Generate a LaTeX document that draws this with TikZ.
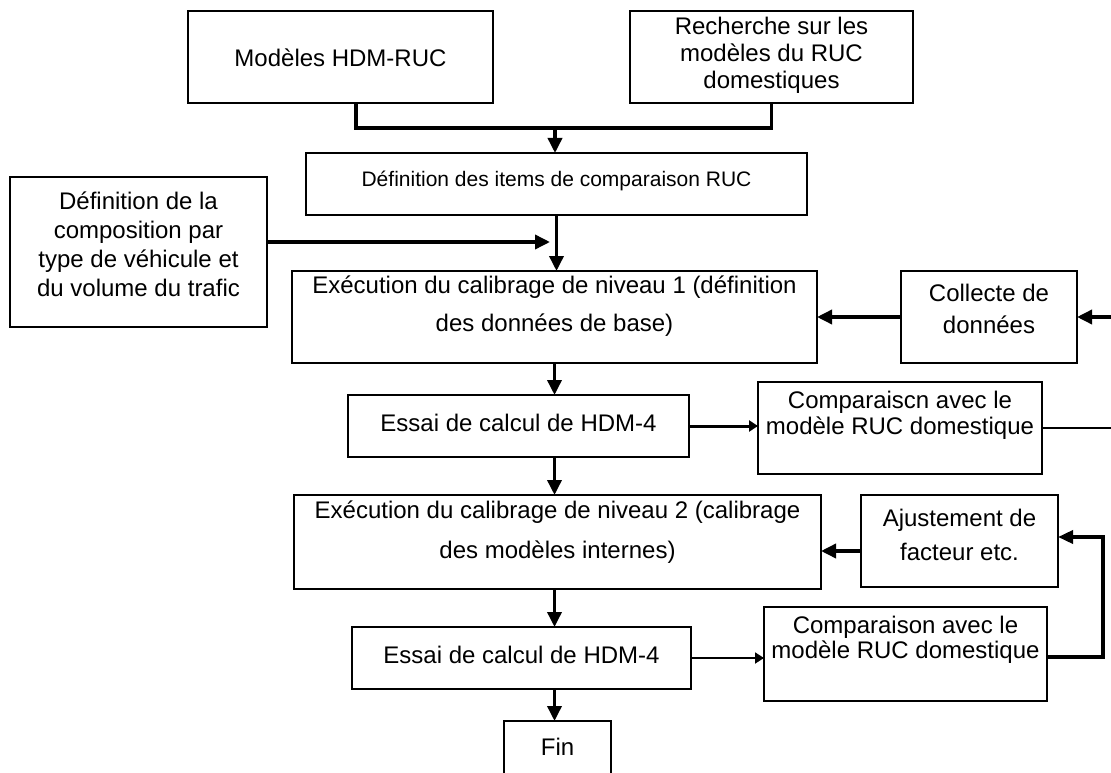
\documentclass[tikz,border=0pt]{standalone}
\usepackage{fontspec}
\setmainfont{Liberation Sans}
\usetikzlibrary{arrows.meta}
\begin{document}
\begin{tikzpicture}[x=1pt,y=-1pt,
  box/.style={draw, line width=1.3pt, rectangle, inner sep=0pt, outer sep=0pt},
  txt/.style={align=center, inner sep=0pt, font=\fontsize{24}{28}\selectfont},
  thk/.style={line width=3.5pt, -{Triangle[length=15pt,width=14pt]}},
  thkl/.style={line width=3.5pt},
  thksm/.style={line width=3pt, -{Triangle[length=9pt,width=11pt]}},
  thn/.style={line width=1.8pt, -{Triangle[length=9pt,width=11pt]}},
  thnl/.style={line width=1.8pt}]
\useasboundingbox[fill=white] (0,0) rectangle (1111,773);

% boxes
\node[box, minimum width=305pt, minimum height=92pt] (mod) at (340.5,57) {};
\node[box, minimum width=283pt, minimum height=92pt] (rech) at (771.5,57) {};
\node[box, minimum width=501pt, minimum height=62pt] (def) at (556.5,184) {};
\node[box, minimum width=257pt, minimum height=150pt] (left) at (138.5,252) {};
\node[box, minimum width=525pt, minimum height=92pt] (exec1) at (554.5,317) {};
\node[box, minimum width=176pt, minimum height=92pt] (coll) at (989,317) {};
\node[box, minimum width=341pt, minimum height=62pt] (essai1) at (518.5,426) {};
\node[box, minimum width=284pt, minimum height=92pt] (comp1) at (900,428) {};
\node[box, minimum width=527pt, minimum height=94pt] (exec2) at (557.5,542) {};
\node[box, minimum width=197pt, minimum height=92pt] (ajust) at (959.5,541) {};
\node[box, minimum width=339pt, minimum height=62pt] (essai2) at (521.5,658) {};
\node[box, minimum width=283pt, minimum height=94pt] (comp2) at (905.5,654) {};
\node[box, minimum width=107pt, minimum height=79pt] (fin) at (557.5,760.5) {};

% texts
\node[txt] (mod-t) at (340.5,58) {Modèles HDM-RUC};
\node[txt, font=\fontsize{24}{27}\selectfont] (rech-t) at (771.5,55) {Recherche sur les\\modèles du RUC\\domestiques};
\node[txt, font=\fontsize{21}{24}\selectfont] (def-t) at (556.5,181) {Définition des items de comparaison RUC};
\node[txt, font=\fontsize{24}{29}\selectfont] (left-t) at (138.5,244) {Définition de la\\composition par\\type de véhicule et\\du volume du trafic};
\node[txt, font=\fontsize{24}{38}\selectfont] (exec1-t) at (554.5,306) {Exécution du calibrage de niveau 1 (définition\\des données de base)};
\node[txt, font=\fontsize{24}{32}\selectfont] (coll-t) at (989,309) {Collecte de\\données};
\node[txt] (essai1-t) at (518.5,423) {Essai de calcul de HDM-4};
\node[txt, font=\fontsize{24}{26}\selectfont] (comp1-t) at (900,415) {Comparaiscn avec le\\modèle RUC domestique};
\node[txt, font=\fontsize{24}{40}\selectfont] (exec2-t) at (557.5,532) {Exécution du calibrage de niveau 2 (calibrage\\des modèles internes)};
\node[txt, font=\fontsize{24}{34}\selectfont] (ajust-t) at (959.5,535) {Ajustement de\\facteur etc.};
\node[txt] (essai2-t) at (521.5,655) {Essai de calcul de HDM-4};
\node[txt, font=\fontsize{24}{25}\selectfont] (comp2-t) at (905.5,640) {Comparaison avec le\\modèle RUC domestique};
\node[txt] (fin-t) at (557.5,747) {Fin};

% connectors
\coordinate (j) at (555,128);
\draw[thkl] ([xshift=15.5pt]mod.south) |- (j);
\draw[thkl] (rech.south) |- (j);
\draw[thk] (j) -- (j |- def.north);
\draw[thk] (def.south) -- (def.south |- exec1.north);
\coordinate (lt) at (550,242);
\draw[thk] (left.east |- lt) -- (lt);
\draw[thk] (coll.west) -- (coll.west -| exec1.east);
\coordinate (re1) at (1125,317);
\draw[thk] (re1) -- (coll.east);
\draw[thk] (exec1.south) -- (exec1.south |- essai1.north);
\draw[thksm] (essai1.east) -- (essai1.east -| comp1.west);
\coordinate (re2) at (1125,428);
\draw[thnl] (comp1.east) -- (re2);
\draw[thk] (essai1.south -| exec1.south) -- (exec2.north -| exec1.south);
\coordinate (aw) at ([yshift=-10pt]ajust.west);
\draw[thk] (aw) -- (aw -| exec2.east);
\draw[thk] (exec2.south -| exec1.south) -- (essai2.north -| exec1.south);
\coordinate (cr) at (1103,537);
\draw[line width=3.5pt, -{Triangle[length=15pt,width=13pt]}] ([yshift=-3pt]comp2.east) -| (cr) -- (cr -| ajust.east);
\draw[thn] (essai2.east) -- (essai2.east -| comp2.west);
\draw[thk] (essai2.south -| exec1.south) -- (fin.north -| exec1.south);
\end{tikzpicture}
\end{document}
